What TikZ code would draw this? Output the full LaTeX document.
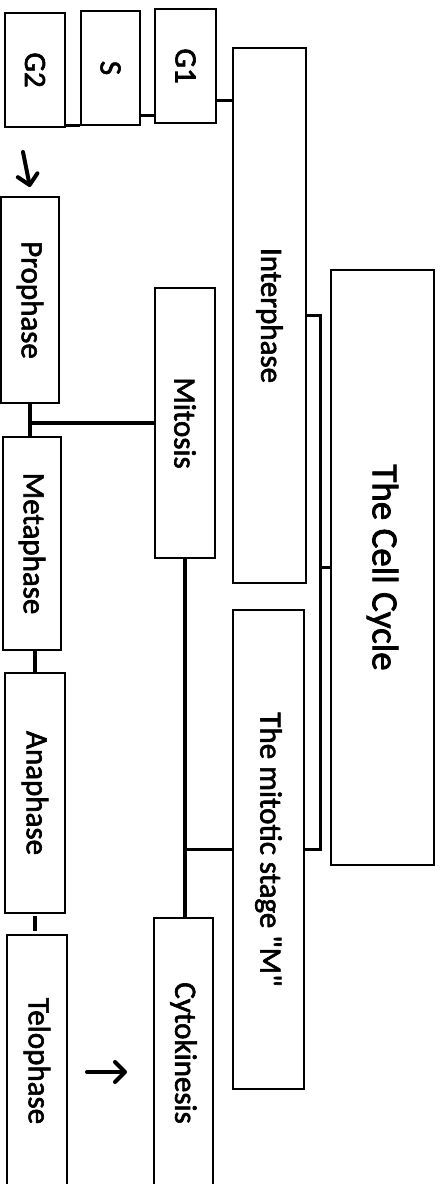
\documentclass[tikz,border=0pt]{standalone}
\usepackage{fontspec}
\setmainfont{Carlito}
\newfontfamily\lblfont{Carlito}[FakeBold=2]
\usetikzlibrary{arrows.meta,calc}
\begin{document}
\begin{tikzpicture}[x=1pt,y=-1pt,
  box/.style={draw=black,line width=1.3pt,inner sep=0pt,
    font=\lblfont\fontsize{31}{31}\selectfont},
  titlebox/.style={box,font=\lblfont\fontsize{37}{37}\selectfont},
  conn/.style={draw=black,line width=3.6pt},
  flowarrow/.style={draw=black,line width=4pt,line cap=round,
    -{Straight Barb[length=10pt,width=20pt,round]}}]
\useasboundingbox[fill=white] (0,0) rectangle (444,1184);
% boxes
\node[box,minimum width=60pt,minimum height=114pt] (g2) at (35,70) {\rotatebox{-90}{G2}};
\node[box,minimum width=59pt,minimum height=114pt] (s) at (110.5,68) {\rotatebox{-90}{S}};
\node[box,minimum width=61pt,minimum height=114pt] (g1) at (185.5,66) {\rotatebox{-90}{G1}};
\node[box,minimum width=73pt,minimum height=535pt] (inter) at (269.5,315.5) {\rotatebox{-90}{Interphase}};
\node[titlebox,minimum width=103pt,minimum height=595pt] (cc) at (382.5,567.5) {\rotatebox{-90}{The Cell Cycle}};
\node[box,minimum width=60pt,minimum height=270pt] (mitosis) at (185,423) {\rotatebox{-90}{Mitosis}};
\node[box,minimum width=71pt,minimum height=479pt] (mstage) at (268.5,849.5) {\rotatebox{-90}{The mitotic stage \textquotedbl M\textquotedbl}};
\node[box,minimum width=59pt,minimum height=270pt] (cyto) at (183.5,1053) {\rotatebox{-90}{Cytokinesis}};
\node[box,minimum width=58pt,minimum height=206pt] (pro) at (30,300) {\rotatebox{-90}{Prophase}};
\node[box,minimum width=58pt,minimum height=213pt] (meta) at (32,543.5) {\rotatebox{-90}{Metaphase}};
\node[box,minimum width=60pt,minimum height=240pt] (ana) at (35,793) {\rotatebox{-90}{Anaphase}};
\node[box,minimum width=60pt,minimum height=252pt] (telo) at (37,1061) {\rotatebox{-90}{Telophase}};
% connectors in the top row
\draw[conn] (g2.south east |- s.south west) -- (s.south west);
\draw[conn] ([yshift=10pt]s.south east) -- ([yshift=10pt]s.south east -| g1.west);
\draw[conn] ([yshift=23pt]g1.south east) -- ([yshift=23pt]g1.south east -| inter.west);
% bracket from The Cell Cycle
\coordinate (bx) at ($(mstage.east)+(16,0)$);
\draw[conn] (inter.east) -| (bx) -- (mstage.east);
\draw[conn] (cc.west) -- (cc.west -| bx);
% mitosis branches
\coordinate (pm) at (pro.south);
\draw[conn] (mitosis.west) -- (mitosis.west -| pm);
\draw[conn] (pro.south) -- (pro.south |- meta.north);
\draw[conn] (mitosis.south) -- (mitosis.south |- cyto.north);
\draw[conn] (mstage.west) -- (mstage.west -| mitosis.south);
% phase links
\draw[conn] (ana.north |- meta.south) -- (ana.north);
\draw[conn] ([yshift=-2pt]ana.south) -- ([yshift=3pt]ana.south |- telo.north);
% free arrows
\coordinate (a1s) at (23,152);
\coordinate (a1e) at (30,187);
\draw[flowarrow] (a1s) -- (a1e);
\coordinate (a2s) at (87,1072);
\coordinate (a2e) at (127,1072);
\draw[flowarrow] (a2s) -- (a2e);
\end{tikzpicture}
\end{document}
